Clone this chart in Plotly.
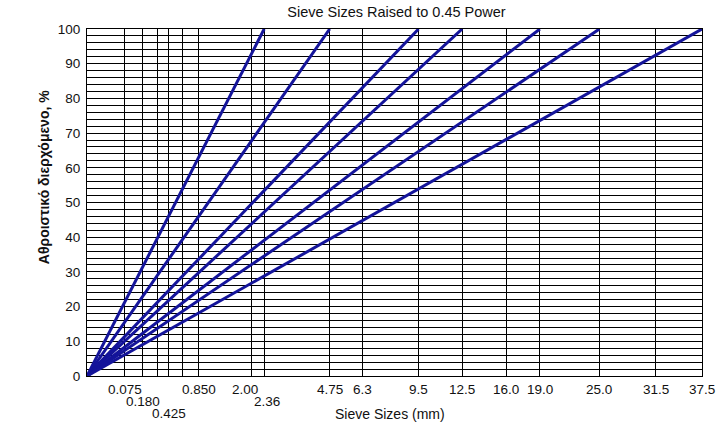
import plotly.graph_objects as go

POWER = 0.45
# Maximum sizes (mm) of the maximum-density lines
max_sizes = [2.36, 4.75, 9.5, 12.5, 19.0, 25.0, 37.5]
# Sieve sizes drawn as vertical grid lines
grid_sizes = [0.075, 0.180, 0.300, 0.425, 0.600, 0.850, 2.00, 2.36, 4.75,
              6.3, 9.5, 12.5, 16.0, 19.0, 25.0, 31.5, 37.5]
# Tick labels on three staggered rows
row1_sizes = [0.075, 0.850, 2.00, 4.75, 6.3, 9.5, 12.5, 16.0, 19.0, 25.0, 31.5, 37.5]
row1_labels = ["0.075", "0.850", "2.00", "4.75", "6.3", "9.5", "12.5", "16.0",
               "19.0", "25.0", "31.5", "37.5"]
row2_sizes = [0.180, 2.36]
row2_labels = ["0.180", "2.36"]
row3_sizes = [0.425]
row3_labels = ["0.425"]
y_ticks = list(range(0, 101, 10))

LINE_COLOR = "#14149a"
FONT = "Liberation Sans, Arial, sans-serif"
TXT = "#111"
# small horizontal nudges so crowded labels do not collide
label_nudge = {"2.00": -6, "2.36": 3}

fig = go.Figure()
for d in max_sizes:
    fig.add_trace(go.Scatter(
        x=[0, d ** POWER], y=[0, 100], mode="lines",
        line=dict(color=LINE_COLOR, width=3), showlegend=False,
        hoverinfo="skip"))

annotations = []
for sizes, labels, shift in [(row1_sizes, row1_labels, -13),
                             (row2_sizes, row2_labels, -25),
                             (row3_sizes, row3_labels, -37)]:
    for s, lab in zip(sizes, labels):
        annotations.append(dict(
            x=s ** POWER, y=0, xref="x", yref="paper", text=lab,
            showarrow=False, xanchor="center", yanchor="middle", yshift=shift,
            xshift=label_nudge.get(lab, 0), borderpad=0,
            font=dict(family=FONT, size=13.5, color=TXT)))

annotations.append(dict(
    x=0.4927, y=0, xref="paper", yref="paper", text="Sieve Sizes (mm)",
    showarrow=False, xanchor="center", yanchor="middle", yshift=-38,
    xshift=0, borderpad=0,
    font=dict(family=FONT, size=14, color=TXT)))

annotations.append(dict(
    x=(44 - 87) / 615, y=0.573, xref="paper", yref="paper",
    text="<b>Αθροιστικό διερχόμενο, %</b>",
    showarrow=False, xanchor="center", yanchor="middle", textangle=-90,
    font=dict(family=FONT, size=14, color=TXT)))

fig.update_layout(
    width=724, height=432,
    margin=dict(l=87, r=22, t=29, b=56),
    paper_bgcolor="white", plot_bgcolor="white",
    title=dict(text="Sieve Sizes Raised to 0.45 Power", x=0.5476, xanchor="center",
               y=0.972, yanchor="middle",
               font=dict(family=FONT, size=14.5, color=TXT)),
    annotations=annotations,
    xaxis=dict(
        range=[0, max(grid_sizes) ** POWER],
        tickvals=[s ** POWER for s in grid_sizes], showticklabels=False,
        ticks="", showgrid=True, gridcolor="black", gridwidth=1,
        showline=True, linecolor="black", linewidth=1, mirror=True,
        zeroline=False, fixedrange=True),
    yaxis=dict(
        range=[0, 100], tickvals=y_ticks, ticks="",
        tickfont=dict(family=FONT, size=13.5, color=TXT),
        showgrid=True, gridcolor="black", gridwidth=1,
        minor=dict(dtick=2, showgrid=True, gridcolor="black", gridwidth=1),
        showline=True, linecolor="black", linewidth=1, mirror=True,
        zeroline=False, ticklabelstandoff=3,
        fixedrange=True),
)

fig.write_html("out.html")
